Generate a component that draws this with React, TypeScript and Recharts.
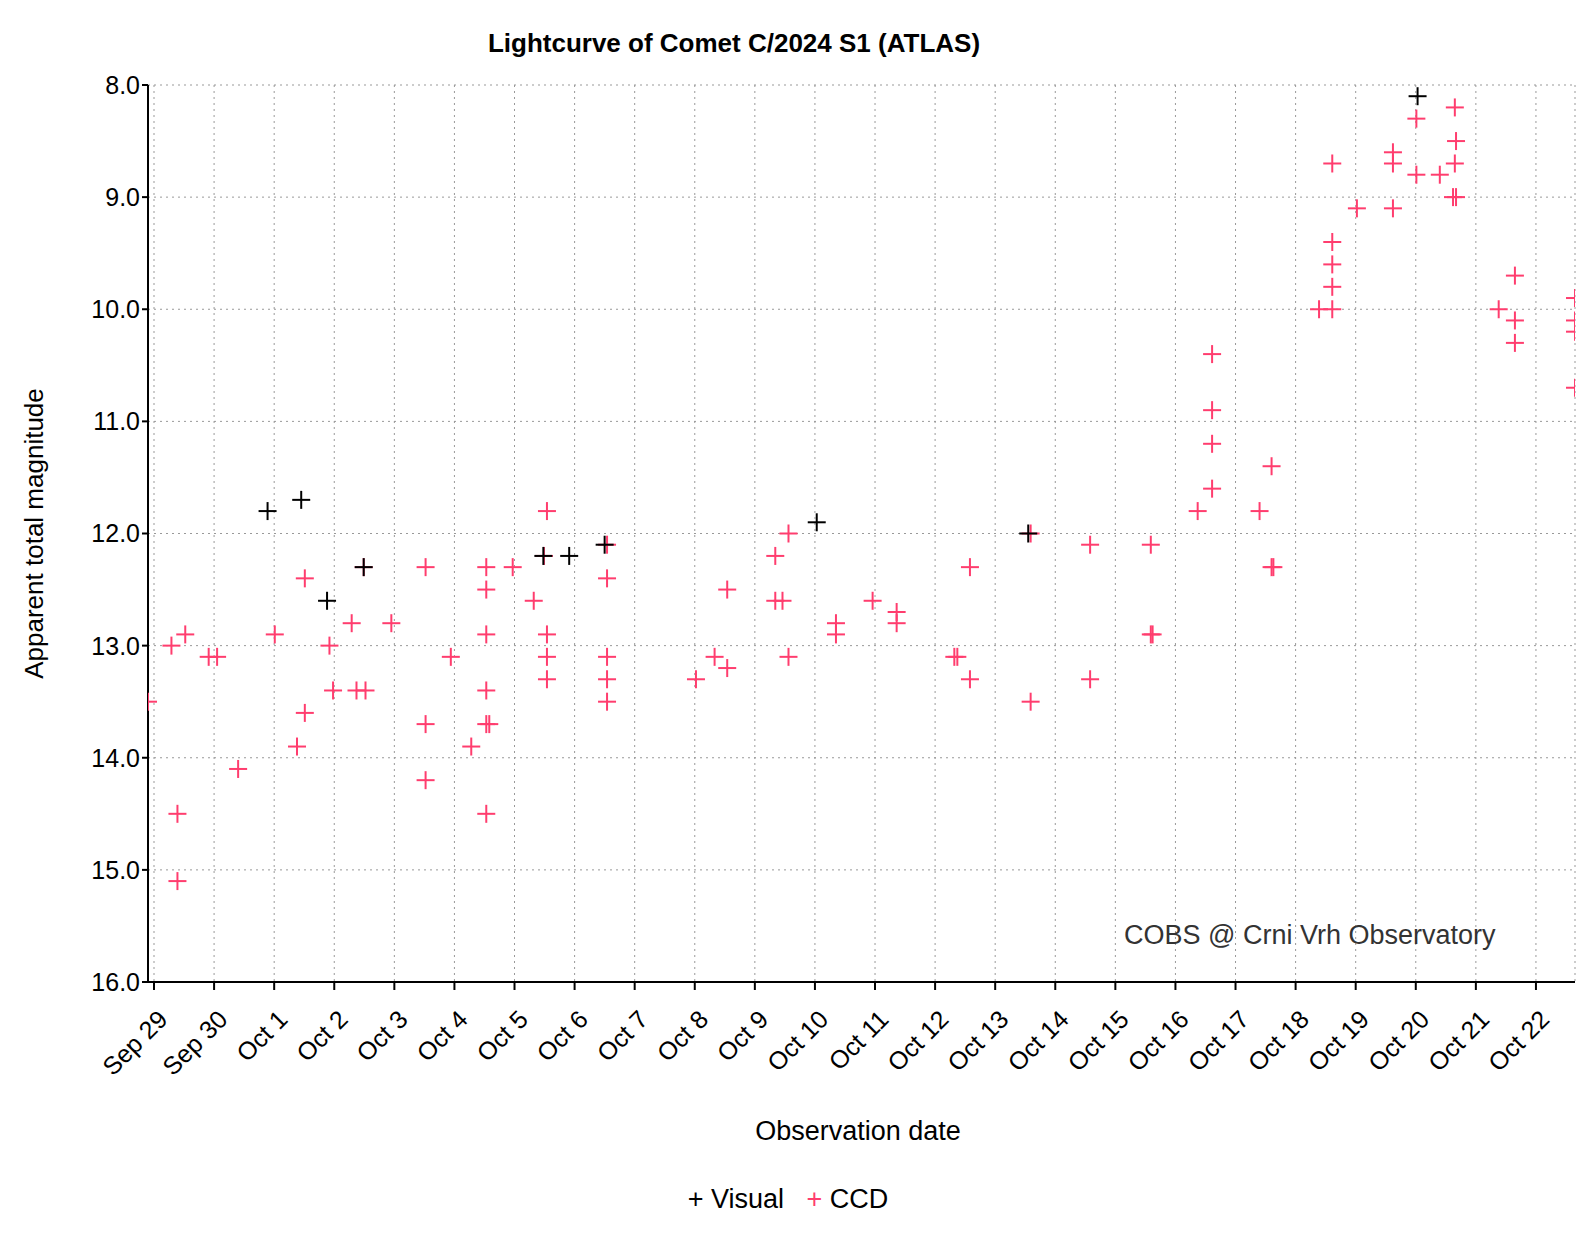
import React from 'react';
import { ScatterChart, Scatter, XAxis, YAxis, CartesianGrid } from 'recharts';

// day 0 = Sep 29
const tickDays = Array.from({ length: 24 }, (_, i) => i);
const tickLabels = ['Sep 29', 'Sep 30', 'Oct 1', 'Oct 2', 'Oct 3', 'Oct 4', 'Oct 5', 'Oct 6', 'Oct 7', 'Oct 8', 'Oct 9', 'Oct 10', 'Oct 11', 'Oct 12', 'Oct 13', 'Oct 14', 'Oct 15', 'Oct 16', 'Oct 17', 'Oct 18', 'Oct 19', 'Oct 20', 'Oct 21', 'Oct 22'];
const magTicks = [8, 9, 10, 11, 12, 13, 14, 15, 16];

const visualDays = [1.89, 2.45, 2.88, 3.49, 6.48, 6.91, 7.5, 11.03, 14.55, 21.03];
const visualMags = [11.8, 11.7, 12.6, 12.3, 12.2, 12.2, 12.1, 11.9, 12.0, 8.1];

const ccdDays = [
  -0.1, 0.29, 0.52, 0.39, 0.39, 0.91, 1.05, 1.4, 2.01, 2.38, 2.51, 2.51, 2.92, 2.98, 3.29, 3.37, 3.52, 3.49,
  3.95, 4.52, 4.52, 4.52, 4.94, 5.28, 5.53, 5.53, 5.53, 5.53, 5.53, 5.58, 5.53, 5.97, 6.32, 6.54, 6.54, 6.54,
  6.54, 6.49, 7.54, 7.54, 7.54, 7.54, 7.54, 9.02, 9.33, 9.54, 9.54, 10.34, 10.34, 10.46, 10.56, 10.56, 11.35,
  11.35, 11.96, 12.36, 12.36, 13.32, 13.37, 13.58, 13.58, 14.59, 14.59, 15.58, 15.58, 16.59, 16.59, 16.62,
  17.37, 17.61, 17.61, 17.61, 17.61, 18.4, 18.6, 18.6, 18.63, 19.39, 19.61, 19.61, 19.61, 19.61, 19.61, 20.02,
  20.62, 20.62, 20.62, 21.01, 21.01, 21.4, 21.65, 21.67, 21.65, 21.62, 21.67, 22.38, 22.65, 22.65, 22.65,
  23.65, 23.65, 23.65, 23.65,
];
const ccdMags = [
  13.5, 13.0, 12.9, 14.5, 15.1, 13.1, 13.1, 14.1, 12.9, 13.9, 13.6, 12.4, 13.0, 13.4, 12.8, 13.4, 13.4, 12.3,
  12.8, 12.3, 13.7, 14.2, 13.1, 13.9, 12.3, 12.5, 12.9, 13.4, 13.7, 13.7, 14.5, 12.3, 12.6, 11.8, 12.9, 13.1,
  13.3, 12.2, 12.1, 12.4, 13.1, 13.3, 13.5, 13.3, 13.1, 12.5, 13.2, 12.2, 12.6, 12.6, 12.0, 13.1, 12.8,
  12.9, 12.6, 12.7, 12.8, 13.1, 13.1, 12.3, 13.3, 12.0, 13.5, 12.1, 13.3, 12.1, 12.9, 12.9,
  11.8, 10.4, 10.9, 11.2, 11.6, 11.8, 11.4, 12.3, 12.3, 10.0, 8.7, 9.4, 9.6, 9.8, 10.0, 9.1,
  8.6, 8.7, 9.1, 8.3, 8.8, 8.8, 8.2, 8.5, 8.7, 9.0, 9.0, 10.0, 9.7, 10.1, 10.3,
  9.9, 10.1, 10.2, 10.7,
];

const visual = visualDays.map((d, i) => ({ day: d, mag: visualMags[i] }));
const ccd = ccdDays.map((d, i) => ({ day: d, mag: ccdMags[i] }));

const FONT = '"Liberation Sans", Arial, sans-serif';

const plus = (color: string) => (props: any) => {
  const { cx, cy } = props;
  if (cx == null || cy == null) return <g />;
  return (
    <g stroke={color} strokeWidth={2}>
      <line x1={cx - 9} y1={cy} x2={cx + 9} y2={cy} />
      <line x1={cx} y1={cy - 9} x2={cx} y2={cy + 9} />
    </g>
  );
};

const XTick = (props: any) => {
  const { x, y, payload } = props;
  const ax = x + 2;
  const ay = y + 16;
  return (
    <text x={ax} y={ay} transform={`rotate(-45, ${ax}, ${ay})`} textAnchor="end"
      dominantBaseline="hanging" fontSize={25} fill="#000" fontFamily={FONT}>
      {tickLabels[payload.value]}
    </text>
  );
};

export default function App() {
  return (
    <div style={{ position: 'relative', width: 1572, height: 1234, fontFamily: FONT }}>
      <div style={{ position: 'absolute', top: 20, left: -60, width: 1572, textAlign: 'center', fontSize: 26, fontWeight: 'bold' }}>
        Lightcurve of Comet C/2024 S1 (ATLAS)
      </div>
      <ScatterChart width={1572} height={1234} margin={{ top: 77, right: 5, left: 0, bottom: 160 }}>
        <CartesianGrid stroke="#999" strokeDasharray="2 4" />
        <XAxis type="number" dataKey="day" domain={[-0.1, 23.65]} ticks={tickDays} interval={0}
          allowDataOverflow tick={<XTick />} height={100} stroke="#000" tickSize={8} strokeWidth={2} />
        <YAxis type="number" dataKey="mag" domain={[8, 16]} ticks={magTicks} reversed width={140}
          allowDataOverflow tickFormatter={(v: number) => v.toFixed(1)} stroke="#000" strokeWidth={2}
          tick={{ fontSize: 25, fill: '#000', fontFamily: FONT }} tickSize={6}
          label={{ value: 'Apparent total magnitude', angle: -90, position: 'insideLeft', offset: 26,
            style: { fontSize: 26, fill: '#000', textAnchor: 'middle', fontFamily: FONT } }} />
        <Scatter name="CCD" data={ccd} shape={plus('#ff3d6e')} isAnimationActive={false} />
        <Scatter name="Visual" data={visual} shape={plus('#000')} isAnimationActive={false} />
      </ScatterChart>
      <div style={{ position: 'absolute', top: 912, left: 1116, fontSize: 27, color: '#333' }}>COBS @ Crni Vrh Observatory</div>
      <div style={{ position: 'absolute', top: 1108, left: 0, width: 1700, textAlign: 'center', fontSize: 27 }}>Observation date</div>
      <div style={{ position: 'absolute', top: 1176, left: 0, width: 1560, textAlign: 'center', fontSize: 27 }}>
        <span style={{ color: '#000' }}>+</span> Visual&nbsp;&nbsp;&nbsp;<span style={{ color: '#ff3d6e' }}>+</span> CCD
      </div>
    </div>
  );
}
